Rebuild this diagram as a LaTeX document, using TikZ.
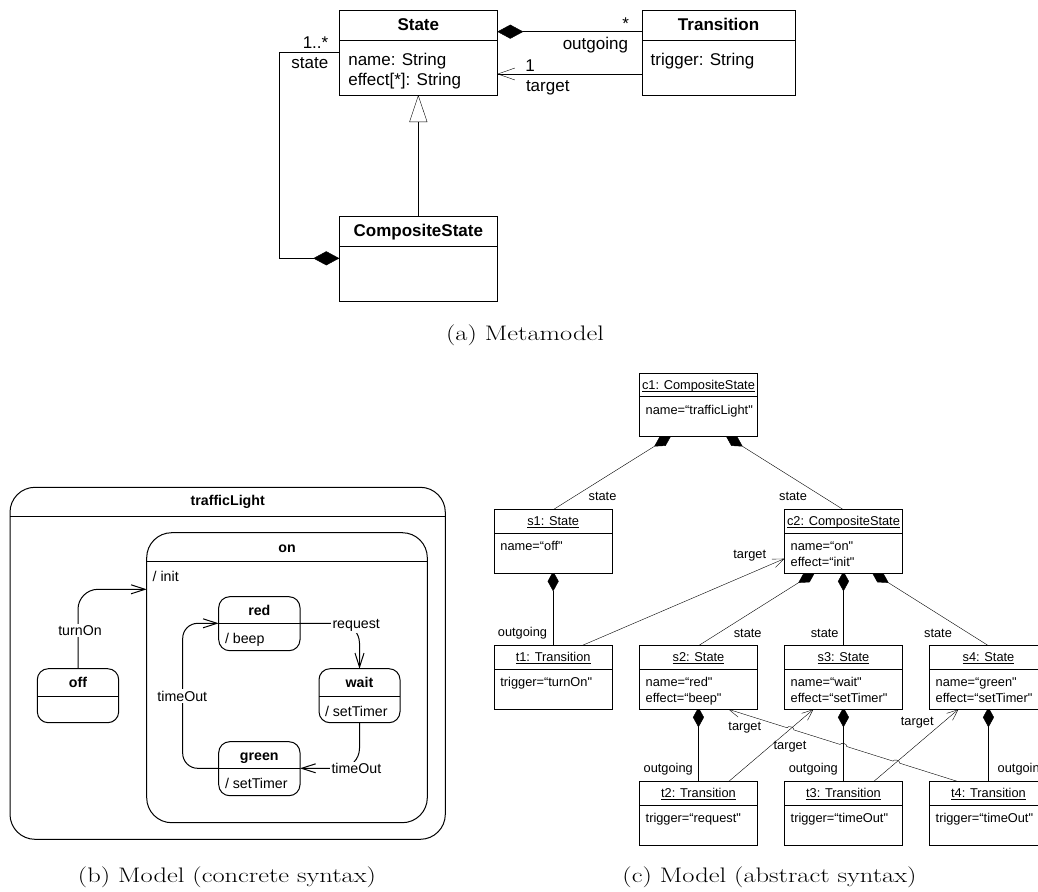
\documentclass[tikz,border=0pt]{standalone}
\usepackage{fontspec}
\usepackage{graphicx}
\usetikzlibrary{arrows.meta,calc,backgrounds}
\newfontfamily\uml{Liberation Sans}
% underline at a fixed depth below the baseline
\newcommand\objul[1]{\setbox0\hbox{#1}\rlap{\rule[-1.8pt]{\wd0}{0.6pt}}\box0}
% widened caption text
\newcommand\captext[1]{\scalebox{1.26}[1]{#1}}

\tikzset{
  box/.style={draw,fill=white,anchor=north west,line width=1pt},
  mm/.style={font=\uml\fontsize{17}{20}\selectfont},
  cs/.style={font=\uml\fontsize{14.2}{17}\selectfont},
  od/.style={font=\uml\fontsize{12.8}{15}\selectfont},
  captxt/.style={font=\fontsize{21}{25}\selectfont},
  lbl/.style={fill=white,inner sep=1.5pt},
  mmcomp/.style={{Diamond[length=26pt,width=14pt]}-},
  mmnav/.style={-{Straight Barb[length=17pt,width=12pt]}},
  mmgen/.style={-{Triangle[open,length=27pt,width=18pt]}},
  csnav/.style={-{Straight Barb[length=14pt,width=9pt]}},
  odcomp/.style={{Diamond[length=20pt,width=11pt]}-,shorten <=-2pt},
  odnav/.style={-{Straight Barb[length=11pt,width=9pt]}},
}

\begin{document}
\begin{tikzpicture}[x=1pt,y=-1pt,line width=1pt,inner sep=0pt,outer sep=0pt]
\useasboundingbox (0,0) rectangle (1038,891);
\clip (0,0) rectangle (1038,891);

% ---------------- (a) metamodel ----------------
\node[box,minimum width=158,minimum height=84.7] (State) at (339.3,10.3) {};
\node[box,minimum width=152.7,minimum height=84.7] (Trans) at (642.3,10.3) {};
\node[box,minimum width=158,minimum height=85] (Comp) at (339.3,216) {};
\draw ([yshift=-30.7]State.north west) -- ([yshift=-30.7]State.north east);
\draw ([yshift=-30.5]Trans.north west) -- ([yshift=-30.5]Trans.north east);
\draw ([yshift=-30.7]Comp.north west) -- ([yshift=-30.7]Comp.north east);

\node[mm,anchor=base] at (418.3,31) {\bfseries State};
\node[mm,anchor=base] at (718.6,31) {\bfseries Transition};
\node[mm,anchor=base] at (418.3,236) {\bfseries CompositeState};
\node[mm,anchor=base west] at (348.3,65.5) {name: String};
\node[mm,anchor=base west] at (348.3,85) {effect[*]: String};
\node[mm,anchor=base west] at (650.7,65.5) {trigger: String};

\coordinate (mmbend) at (279.3,52.3);
\begin{scope}[on background layer]
  \draw[mmcomp] ([yshift=-21.4]State.north east) -- ([yshift=-21.4]Trans.north west);
  \draw[mmnav] ([yshift=-63.7]Trans.north west) -- ([yshift=-63.7]State.north east);
  \draw[mmgen] (Comp.north) -- (State.south);
  \draw[mmcomp] ([yshift=-42.3]Comp.north west) -| (mmbend) -- (State.west |- mmbend);
\end{scope}

\node[mm,anchor=base east] at (328.3,48.5) {1..*};
\node[mm,anchor=base east] at (328.3,68) {state};
\node[mm,anchor=base] at (625.7,30) {*};
\node[mm,anchor=base east] at (628,50) {outgoing};
\node[mm,anchor=base] at (530,71.7) {1};
\node[mm,anchor=base west] at (526,91.5) {target};

\node[captxt] at (525,335) {\captext{(a) Metamodel}};

% ---------------- (b) concrete syntax ----------------
\node[box,rounded corners=25,minimum width=435.3,minimum height=352] (tl) at (10,487.3) {};
\node[box,rounded corners=25,minimum width=280.6,minimum height=290] (on) at (146.7,532.7) {};
\node[box,rounded corners=11,minimum width=81.4,minimum height=54] (off) at (37.3,668.7) {};
\node[box,rounded corners=11,minimum width=81.3,minimum height=54] (red) at (218.7,596.7) {};
\node[box,rounded corners=11,minimum width=81,minimum height=54] (wait) at (319,668.7) {};
\node[box,rounded corners=11,minimum width=81.3,minimum height=54] (green) at (218.7,741.7) {};
\draw ([yshift=-28.7]tl.north west) -- ([yshift=-28.7]tl.north east);
\draw ([yshift=-29]on.north west) -- ([yshift=-29]on.north east);
\draw ([yshift=-27.3]off.north west) -- ([yshift=-27.3]off.north east);
\draw ([yshift=-26.6]red.north west) -- ([yshift=-26.6]red.north east);
\draw ([yshift=-27.3]wait.north west) -- ([yshift=-27.3]wait.north east);
\draw ([yshift=-26.6]green.north west) -- ([yshift=-26.6]green.north east);

\node[cs,anchor=base] at (227.7,505.5) {\bfseries trafficLight};
\node[cs,anchor=base] at (287,552) {\bfseries on};
\node[cs,anchor=base west] at (152.7,581.5) {/ init};
\node[cs,anchor=base] at (78,687.4) {\bfseries off};
\node[cs,anchor=base] at (259.3,615.1) {\bfseries red};
\node[cs,anchor=base west] at (225,643) {/ beep};
\node[cs,anchor=base] at (359.5,687.4) {\bfseries wait};
\node[cs,anchor=base west] at (325,716.5) {/ setTimer};
\node[cs,anchor=base] at (259.3,760) {\bfseries green};
\node[cs,anchor=base west] at (225,788.7) {/ setTimer};

% transitions between the states
\draw[csnav,rounded corners=20] (off.north) |- ($(on.north west)+(0,56.6)$);
\draw[csnav,rounded corners=20] ($(red.north east)+(0,26.6)$) -| (wait.north);
\draw[csnav,rounded corners=20] (wait.south) |- ($(green.north east)+(0,26.6)$);
\draw[csnav,rounded corners=15] ($(green.north west)+(0,26.6)$) -| ($(red.north west)+(-36,26.6)$) -- ($(red.north west)+(0,26.6)$);

\node[cs,lbl,anchor=base] at (80,635.5) {turnOn};
\node[cs,lbl,anchor=base west] at (331,628.3) {request};
\node[cs,lbl,anchor=base] at (182.3,701) {timeOut};
\node[cs,lbl,anchor=base west] at (330,773.5) {timeOut};

\node[captxt] at (227,877) {\captext{(b) Model (concrete syntax)}};

% ---------------- (c) abstract syntax ----------------
\tikzset{obj/.style={box,minimum width=118.3,minimum height=63.6}}
\node[obj] (c1) at (639.3,373.3) {};
\node[obj] (s1) at (494,509.7) {};
\node[obj] (c2) at (784.3,509.7) {};
\node[obj] (t1) at (494,645.7) {};
\node[obj] (s2) at (639.3,645.7) {};
\node[obj] (s3) at (784.3,645.7) {};
\node[obj] (s4) at (929.3,645.7) {};
\node[obj] (t2) at (639.3,781.7) {};
\node[obj] (t3) at (784.3,781.7) {};
\node[obj] (t4) at (929.3,781.7) {};
\foreach \b in {c1,s1,c2,t1,s2,s3,s4,t2,t3,t4}{
  \draw ([yshift=-23.5]\b.north west) -- ([yshift=-23.5]\b.north east);
}

\node[od,anchor=base] at ([yshift=-16.2]c1.north) {\objul{c1: CompositeState}};
\node[od,anchor=base west] at ([xshift=6.4,yshift=-41]c1.north west) {name=“trafficLight"};
\node[od,anchor=base] at ([yshift=-16.2]s1.north) {\objul{s1: State}};
\node[od,anchor=base west] at ([xshift=6.4,yshift=-41]s1.north west) {name=“off"};
\node[od,anchor=base] at ([yshift=-16.2]c2.north) {\objul{c2: CompositeState}};
\node[od,anchor=base west] at ([xshift=6.4,yshift=-41]c2.north west) {name=“on"};
\node[od,anchor=base west] at ([xshift=6.4,yshift=-57]c2.north west) {effect=“init"};
\node[od,anchor=base] at ([yshift=-16.2]t1.north) {\objul{t1: Transition}};
\node[od,anchor=base west] at ([xshift=6.4,yshift=-41]t1.north west) {trigger=“turnOn"};
\node[od,anchor=base] at ([yshift=-16.2]s2.north) {\objul{s2: State}};
\node[od,anchor=base west] at ([xshift=6.4,yshift=-41]s2.north west) {name=“red"};
\node[od,anchor=base west] at ([xshift=6.4,yshift=-57]s2.north west) {effect=“beep"};
\node[od,anchor=base] at ([yshift=-16.2]s3.north) {\objul{s3: State}};
\node[od,anchor=base west] at ([xshift=6.4,yshift=-41]s3.north west) {name=“wait"};
\node[od,anchor=base west] at ([xshift=6.4,yshift=-57]s3.north west) {effect=“setTimer"};
\node[od,anchor=base] at ([yshift=-16.2]s4.north) {\objul{s4: State}};
\node[od,anchor=base west] at ([xshift=6.4,yshift=-41]s4.north west) {name=“green"};
\node[od,anchor=base west] at ([xshift=6.4,yshift=-57]s4.north west) {effect=“setTimer"};
\node[od,anchor=base] at ([yshift=-16.2]t2.north) {\objul{t2: Transition}};
\node[od,anchor=base west] at ([xshift=6.4,yshift=-41]t2.north west) {trigger=“request"};
\node[od,anchor=base] at ([yshift=-16.2]t3.north) {\objul{t3: Transition}};
\node[od,anchor=base west] at ([xshift=6.4,yshift=-41]t3.north west) {trigger=“timeOut"};
\node[od,anchor=base] at ([yshift=-16.2]t4.north) {\objul{t4: Transition}};
\node[od,anchor=base west] at ([xshift=6.4,yshift=-41]t4.north west) {trigger=“timeOut"};

\coordinate (ha) at ($(t4.north)+(-30,0)$);
\coordinate (hb) at ($(s2.south)+(30,0)$);
\begin{scope}[on background layer]
  \draw[odcomp] ($(c1.south)+(-29,0)$) -- (s1.north);
  \draw[odcomp] ($(c1.south)+(29,0)$) -- (c2.north);
  \draw[odcomp] (s1.south) -- (t1.north);
  \draw[odnav] ($(t1.north)+(28.5,0)$) -- ($(c2.north west)+(0,49)$);
  \draw[odcomp] ($(c2.south)+(-30,0)$) -- (s2.north);
  \draw[odcomp] (c2.south) -- (s3.north);
  \draw[odcomp] ($(c2.south)+(30,0)$) -- (s4.north);
  \draw[odcomp] (s2.south) -- (t2.north);
  \draw[odcomp] (s3.south) -- (t3.north);
  \draw[odcomp] (s4.south) -- (t4.north);
  \draw[odnav] ($(t2.north)+(30,0)$) -- ($(s3.south)+(-30,0)$);
  \draw[odnav] ($(t3.north)+(30,0)$) -- ($(s4.south)+(-30,0)$);
  % t4 -> s2, hopping over the lines it crosses
  \draw[odnav] (ha) -- ($(ha)!0.2553!(hb)$) to[bend right=90] ($(ha)!0.2843!(hb)$)
     -- ($(ha)!0.4855!(hb)$) to[bend right=90] ($(ha)!0.5145!(hb)$)
     -- ($(ha)!0.7157!(hb)$) to[bend right=90] ($(ha)!0.7447!(hb)$) -- (hb);
\end{scope}

\node[od,anchor=base] at (602.5,500.5) {state};
\node[od,anchor=base] at (793,500.5) {state};
\node[od,anchor=base] at (749.7,558.5) {target};
\node[od,anchor=base] at (522.5,636.5) {outgoing};
\node[od,anchor=base] at (747.7,637.5) {state};
\node[od,anchor=base] at (824.7,637.5) {state};
\node[od,anchor=base] at (938,637.5) {state};
\node[od,anchor=base] at (744.8,730.6) {target};
\node[od,anchor=base] at (790,749) {target};
\node[od,anchor=base] at (917.2,725.8) {target};
\node[od,anchor=base] at (668.2,772.5) {outgoing};
\node[od,anchor=base] at (813.3,772.5) {outgoing};
\node[od,anchor=base west] at (997.7,772.5) {outgoing};

\node[captxt] at (769.5,877) {\captext{(c) Model (abstract syntax)}};
\end{tikzpicture}
\end{document}
